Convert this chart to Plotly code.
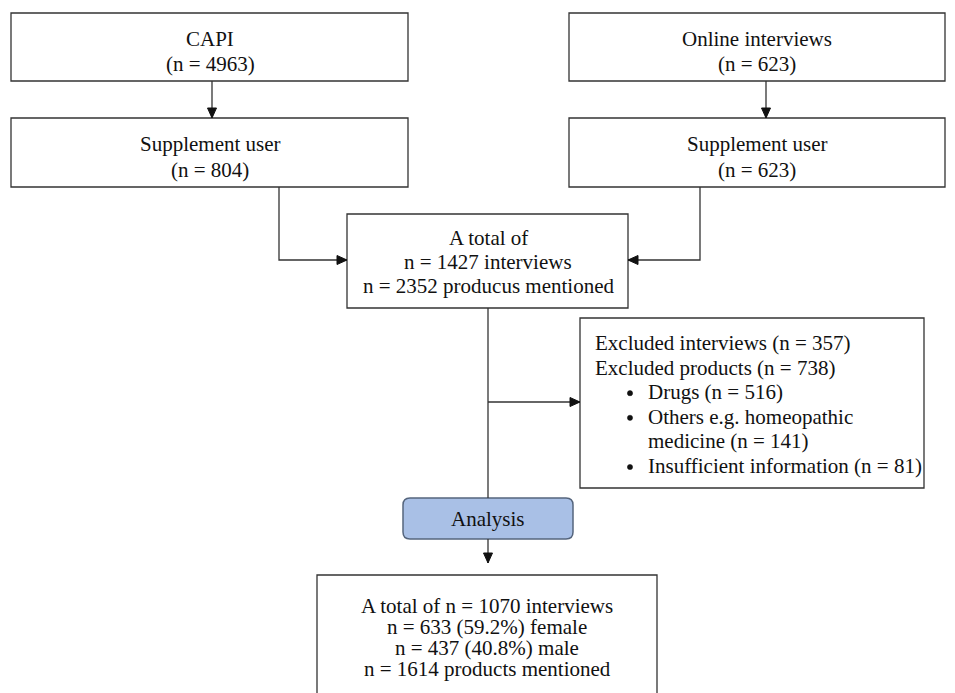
import plotly.graph_objects as go

# ---- content ----
capi_lines = ["CAPI", "(n = 4963)"]
online_lines = ["Online interviews", "(n = 623)"]
capi_user_lines = ["Supplement user", "(n = 804)"]
online_user_lines = ["Supplement user", "(n = 623)"]
total_lines = ["A total of", "n = 1427 interviews", "n = 2352 producus mentioned"]
excl_lines = ["Excluded interviews (n = 357)", "Excluded products (n = 738)"]
excl_bullets = ["Drugs (n = 516)", "Others e.g. homeopathic", "medicine (n = 141)",
                "Insufficient information (n = 81)"]
excl_bullet_marks = [True, True, False, True]
analysis_label = "Analysis"
final_lines = ["A total of n = 1070 interviews", "n = 633 (59.2%) female",
               "n = 437 (40.8%) male", "n = 1614 products mentioned"]

W, H = 955, 693
OFF = 8  # page body margin compensation
FONT = dict(family="Liberation Serif, Times New Roman, serif", size=21, color="#111")
LC = "#333"

fig = go.Figure()
shapes = []
annots = []

def box(x0, y0, x1, y1):
    shapes.append(dict(type="rect", x0=x0, y0=y0, x1=x1, y1=y1,
                       line=dict(color=LC, width=1.3), fillcolor="white", layer="below"))

def rbox(x0, y0, x1, y1, r, fill, lc):
    p = (f"M {x0+r},{y0} L {x1-r},{y0} Q {x1},{y0} {x1},{y0+r} "
         f"L {x1},{y1-r} Q {x1},{y1} {x1-r},{y1} L {x0+r},{y1} "
         f"Q {x0},{y1} {x0},{y1-r} L {x0},{y0+r} Q {x0},{y0} {x0+r},{y0} Z")
    shapes.append(dict(type="path", path=p, fillcolor=fill,
                       line=dict(color=lc, width=1.5), layer="below"))

def line(pts):
    path = "M " + " L ".join(f"{x},{y}" for x, y in pts)
    shapes.append(dict(type="path", path=path, line=dict(color=LC, width=1.3)))

def head(x, y, d):
    L, w = 10, 4.5
    if d == "down":
        p = f"M {x},{y} L {x-w},{y-L} L {x+w},{y-L} Z"
    elif d == "right":
        p = f"M {x},{y} L {x-L},{y-w} L {x-L},{y+w} Z"
    else:
        p = f"M {x},{y} L {x+L},{y-w} L {x+L},{y+w} Z"
    shapes.append(dict(type="path", path=p, fillcolor="#111", line=dict(color="#111", width=1)))

def dot(x, y, r=2.6):
    shapes.append(dict(type="circle", x0=x - r, x1=x + r, y0=y - r, y1=y + r,
                       fillcolor="#111", line=dict(color="#111", width=0.5)))

def text(x, y, s, anchor="center", size=None):
    f = dict(FONT)
    if size:
        f["size"] = size
    annots.append(dict(x=x, y=y, text=s, showarrow=False, xanchor=anchor,
                       yanchor="middle", font=f, xref="x", yref="y"))

# boxes
box(11, 13, 408, 81)
box(569, 13, 945, 81)
box(11, 118, 408, 187)
box(569, 118, 945, 187)
box(347, 214, 628, 308)
box(580, 318, 924, 488)
box(317, 575, 657, 720)
rbox(403, 498, 573, 539, 7, "#a9c0e6", "#55657d")

# connectors
line([(212, 81), (212, 118)]); head(212, 118, "down")
line([(766, 81), (766, 118)]); head(766, 118, "down")
line([(279, 187), (279, 260), (347, 260)]); head(347, 260, "right")
line([(700, 187), (700, 260), (628, 260)]); head(628, 260, "left")
line([(488, 308), (488, 498)])
line([(488, 402), (580, 402)]); head(580, 402, "right")
line([(488, 539), (488, 563)]); head(488, 563, "down")

# texts
for i, s in enumerate(capi_lines):
    text(210, 39 + 25 * i, s)
for i, s in enumerate(online_lines):
    text(757, 39 + 25 * i, s)
for i, s in enumerate(capi_user_lines):
    text(210, 144 + 26 * i, s)
for i, s in enumerate(online_user_lines):
    text(757, 144 + 26 * i, s)
for i, s in enumerate(total_lines):
    text(488, 238 + 24 * i, s)
for i, s in enumerate(excl_lines):
    text(593, 343 + 24.6 * i, s, "left")
for i, (s, b) in enumerate(zip(excl_bullets, excl_bullet_marks)):
    y = 343 + 24.6 * (i + 2)
    if b:
        dot(630, y + 1)
    text(646, y, s, "left")
text(488, 519, analysis_label)
for i, s in enumerate(final_lines):
    text(487, 606 + 21 * i, s)

fig.update_layout(width=W, height=H, margin=dict(l=0, r=0, t=0, b=0),
                  paper_bgcolor="white", plot_bgcolor="white",
                  xaxis=dict(range=[OFF, W + OFF], visible=False, fixedrange=True),
                  yaxis=dict(range=[H + OFF, OFF], visible=False, fixedrange=True),
                  shapes=shapes, annotations=annots, showlegend=False)
fig.write_html("out.html")
